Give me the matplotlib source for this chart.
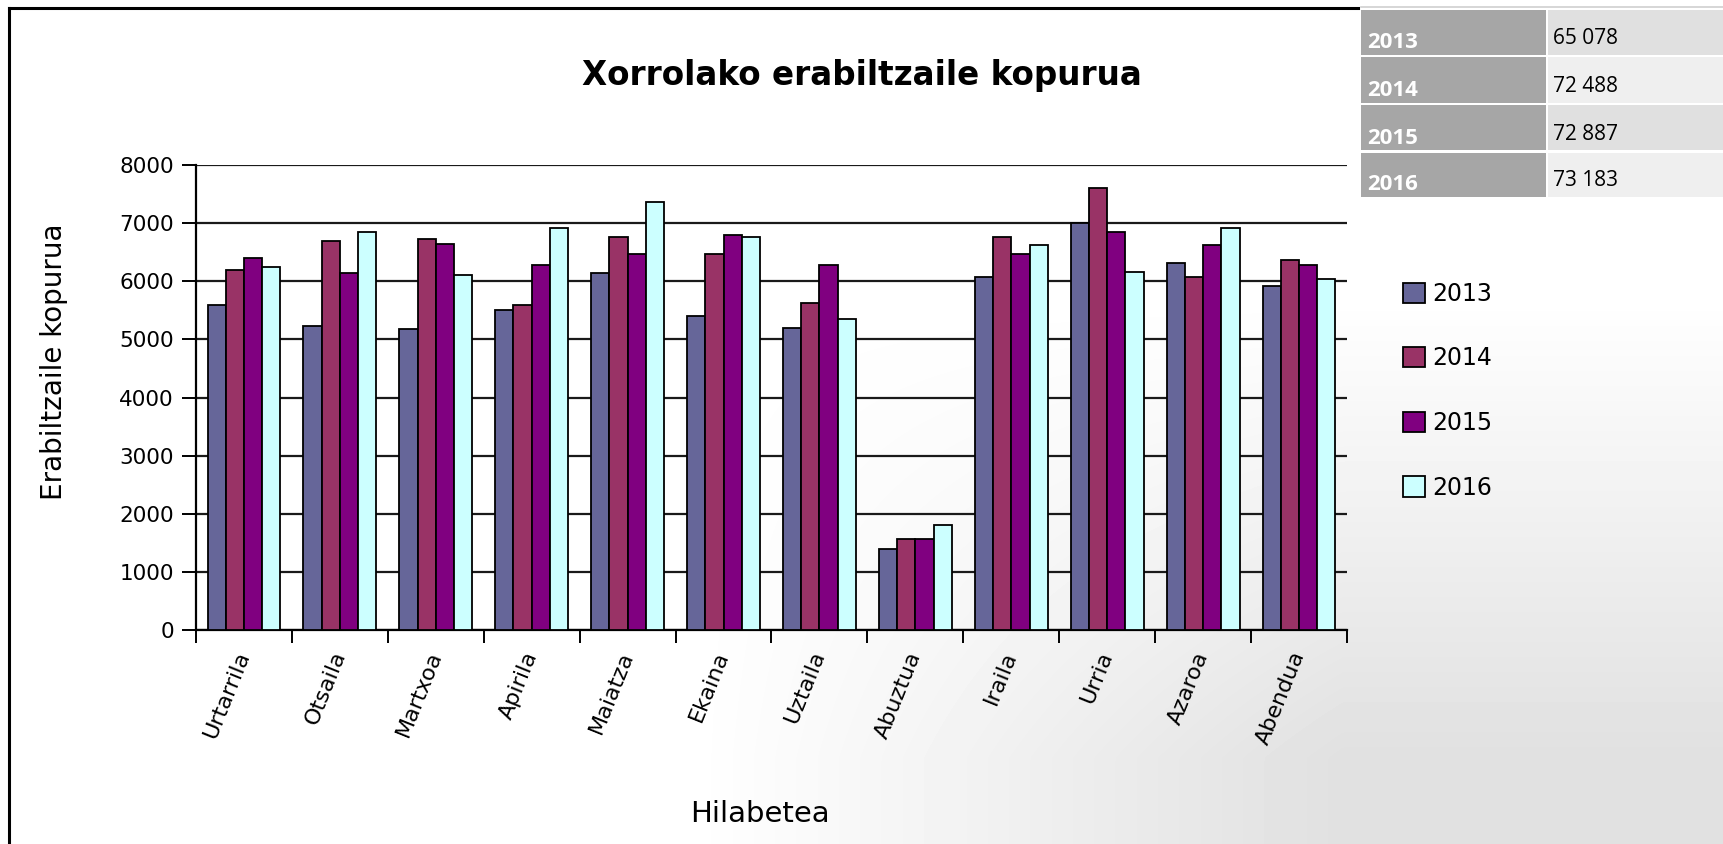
import numpy as np
import matplotlib
matplotlib.use("Agg")
import matplotlib.pyplot as plt
from matplotlib.patches import Rectangle
from matplotlib.lines import Line2D

# ---------------- data ----------------
months = ["Urtarrila", "Otsaila", "Martxoa", "Apirila", "Maiatza", "Ekaina",
          "Uztaila", "Abuztua", "Iraila", "Urria", "Azaroa", "Abendua"]
years = ["2013", "2014", "2015", "2016"]
v2013 = [5590, 5235, 5180, 5505, 6147, 5400, 5188, 1398, 6077, 7007, 6314, 5921]
v2014 = [6200, 6690, 6720, 5590, 6760, 6470, 5633, 1560, 6760, 7608, 6077, 6366]
v2015 = [6400, 6150, 6640, 6280, 6470, 6800, 6280, 1560, 6470, 6846, 6632, 6280]
v2016 = [6240, 6845, 6110, 6915, 7366, 6760, 5344, 1802, 6632, 6153, 6915, 6037]
series = [v2013, v2014, v2015, v2016]
colors = ["#666699", "#993366", "#800080", "#ccffff"]
yticks = [0, 1000, 2000, 3000, 4000, 5000, 6000, 7000, 8000]
table_years = ["2013", "2014", "2015", "2016"]
table_totals = ["65 078", "72 488", "72 887", "73 183"]

title = "Xorrolako erabiltzaile kopurua"
ylabel = "Erabiltzaile kopurua"
xlabel = "Hilabetea"

# ---------------- figure ----------------
W, H = 1724, 844
fig = plt.figure(figsize=(W / 100, H / 100), dpi=100)
fig.patch.set_facecolor("white")


def fx(px):
    return px / W


def fy(py):
    return 1 - py / H


# background gradient (white -> light grey towards bottom right)
bg = fig.add_axes([0, 0, 1, 1], zorder=-10)
xx = np.linspace(0, 1, 400)
yy = np.linspace(0, 1, 200)
X, Y = np.meshgrid(xx, yy)
t = np.clip((Y - 0.35) / 0.55, 0, 1) * np.clip((X - 0.40) / 0.38, 0, 1)
g = 1 - 0.12 * t
bg.imshow(g, cmap="gray", vmin=0, vmax=1, extent=[0, 1, 0, 1], aspect="auto",
          interpolation="bilinear")
bg.axis("off")

# chart border (left + top)
fig.add_artist(Line2D([fx(9), fx(9)], [fy(8), fy(844)], color="black", lw=2.2,
                      transform=fig.transFigure))
fig.add_artist(Line2D([fx(9), fx(1358)], [fy(8), fy(8)], color="black", lw=2.2,
                      transform=fig.transFigure))

# main axes
ax_l, ax_r, ax_t, ax_b = 196, 1347, 165, 630
ax = fig.add_axes([fx(ax_l), fy(ax_b), fx(ax_r - ax_l), (ax_b - ax_t) / H])
ax.set_facecolor("none")

n = len(months)
x = np.arange(n) + 0.5
bw = 0.19
for i, (vals, c, yr) in enumerate(zip(series, colors, years)):
    ax.bar(x + (i - 1.5) * bw, vals, width=bw, color=c, edgecolor="black",
           linewidth=1.3, label=yr, zorder=3)

ax.set_xlim(0, n)
ax.set_ylim(0, 8000)
ax.set_yticks(yticks)
ax.set_yticklabels([str(v) for v in yticks], fontsize=15.5)
ax.yaxis.grid(True, color="#1a1a1a", lw=1.6, zorder=0)
ax.set_axisbelow(True)

ax.set_xticks(np.arange(n + 1))
ax.set_xticklabels([])
ax.set_xticks(x, minor=True)
ax.set_xticklabels(months, minor=True, rotation=68, ha="right", va="center",
                   rotation_mode="anchor", fontsize=16)
ax.tick_params(axis="x", which="minor", length=0, pad=16)
ax.tick_params(axis="x", which="major", direction="out", length=9, width=1.4)
ax.tick_params(axis="y", direction="out", length=10, width=1.4, pad=6)

for s in ["top", "right"]:
    ax.spines[s].set_visible(False)
for s in ["left", "bottom"]:
    ax.spines[s].set_linewidth(1.6)
    ax.spines[s].set_color("black")

ax.set_ylabel(ylabel, fontsize=20)
ax.yaxis.set_label_coords((68 - ax_l) / (ax_r - ax_l), (ax_b - 362) / (ax_b - ax_t))
ax.set_xlabel(xlabel, fontsize=21)
ax.xaxis.set_label_coords(0.49, -(800 - ax_b) / (ax_b - ax_t))

fig.text(0.5, fy(76), title, ha="center", va="center", fontsize=23.5,
         fontweight="bold")

# legend
leg = fig.legend(loc="upper left", bbox_to_anchor=(fx(1391), fy(270)),
                 frameon=False, fontsize=17, handlelength=0.95,
                 handleheight=0.95, handletextpad=0.3, labelspacing=1.72,
                 borderpad=0)

# summary table (top right)
rows_y = [(10, 55), (57, 103), (105, 150), (153, 197)]
right_cols = ["#e0e0e0", "#efefef", "#e0e0e0", "#efefef"]
fig.add_artist(Line2D([fx(1361), fx(1724)], [fy(7), fy(7)], color="#d0d0d0",
                      lw=1.2, transform=fig.transFigure))
for (y0, y1), yr, tot, rc in zip(rows_y, table_years, table_totals, right_cols):
    fig.add_artist(Rectangle((fx(1361), fy(y1)), fx(1546 - 1361), (y1 - y0) / H,
                             transform=fig.transFigure, facecolor="#a6a6a6",
                             edgecolor="none"))
    fig.add_artist(Rectangle((fx(1548), fy(y1)), fx(1724 - 1548), (y1 - y0) / H,
                             transform=fig.transFigure, facecolor=rc,
                             edgecolor="none"))
    fig.text(fx(1367), fy(y1 - 12), yr, ha="left", va="center", fontsize=16,
             fontweight="bold", color="white", family="Open Sans")
    fig.text(fx(1553), fy(y1 - 16), tot, ha="left", va="center", fontsize=15,
             color="black", family="Open Sans")

fig.savefig("out.png", dpi=100)
